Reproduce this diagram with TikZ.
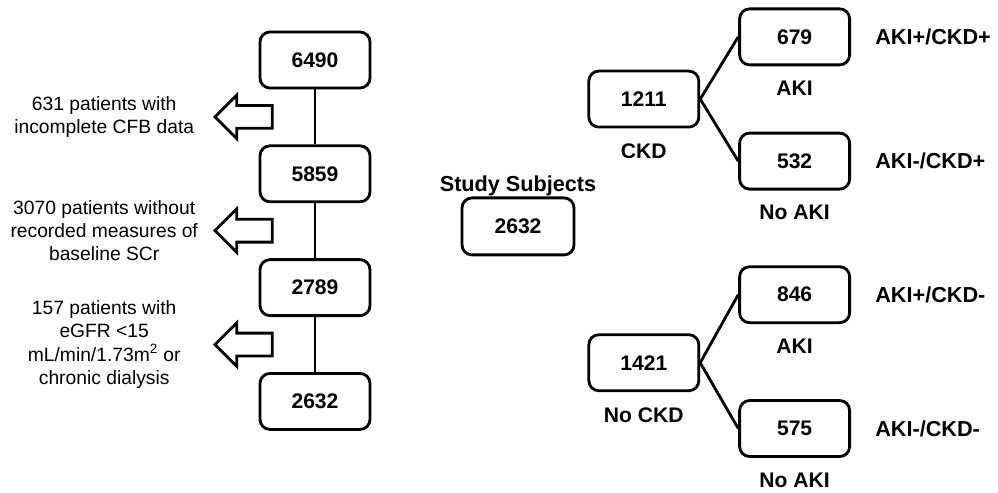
\documentclass[tikz,border=0pt]{standalone}
\usepackage{fontspec}
\setmainfont{Liberation Sans}
\usepackage{tikz}
\usetikzlibrary{shapes,arrows,positioning,calc}

\begin{document}
\begin{tikzpicture}[
    box/.style={draw, line width=2pt, rounded corners=0.25cm, minimum width=2.75cm, minimum height=1.4cm, font=\fontsize{15}{18}\selectfont\bfseries},
    tag/.style={inner sep=0pt, font=\fontsize{15}{18}\selectfont\bfseries},
    group/.style={inner sep=0pt, font=\fontsize{15.4}{18}\selectfont\bfseries},
    note/.style={align=center, inner sep=0pt, font=\fontsize{13.7}{16.5}\selectfont},
    outarrow/.style={single arrow, draw, line width=2pt, shape border rotate=180, minimum height=1.43cm, minimum width=1.02cm, inner sep=0.25cm, single arrow head extend=0.26cm, anchor=tip},
    link/.style={line width=2pt},
    node distance=1.375cm
]
    \useasboundingbox (0,0) rectangle (24.95,-12.3);

    % exclusion chain
    \node[box] (n6490) at (7.875,-1.5) {6490};
    \node[box, below=of n6490] (n5859) {5859};
    \node[box, below=of n5859] (n2789) {2789};
    \node[box, below=of n2789] (n2632) {2632};

    \draw[link] (n6490) -- (n5859) -- (n2789) -- (n2632);

    \node[outarrow] (x1) at ($(n6490)!0.5!(n5859)+(-2.55,0)$) {};
    \node[outarrow] (x2) at ($(n5859)!0.5!(n2789)+(-2.55,0)$) {};
    \node[outarrow] (x3) at ($(n2789)!0.5!(n2632)+(-2.55,0)$) {};

    \node[note] (t1) at ($(x1.tip)+(-2.72,0)$) {631 patients with\\incomplete CFB data};
    \node[note] (t2) at ($(x2.tip)+(-2.72,0)$) {3070 patients without\\recorded measures of\\baseline SCr};
    \node[note] (t3) at ($(x3.tip)+(-2.72,0)$) {157 patients with\\eGFR <15\\mL/min/1.73m\textsuperscript{2} or\\chronic dialysis};

    % study subjects split
    \node[box, minimum width=2.8cm, minimum height=1.425cm] (study) at (12.95,-5.66) {2632};
    \node[tag, above=0pt of study, font=\fontsize{15.4}{18}\selectfont\bfseries] (studylbl) {Study Subjects};

    \node[box, above right=1.7cm and 0.3cm of study] (n1211) {1211};
    \node[box, below right=1.925cm and 0.3cm of study] (n1421) {1421};
    \node[tag, below=0.38cm of n1211] (ckd) {CKD};
    \node[tag, below=0.38cm of n1421] (nockd) {No CKD};

    \node[box, above right=0.085cm and 0.95cm of n1211] (n679) {679};
    \node[box, below right=0.08cm and 0.95cm of n1211] (n532) {532};
    \node[box, above right=0.23cm and 0.95cm of n1421] (n846) {846};
    \node[box, below right=0.175cm and 0.95cm of n1421] (n575) {575};

    \node[tag, below=0.36cm of n679] (aki1) {AKI};
    \node[tag, below=0.36cm of n532] (noaki1) {No AKI};
    \node[tag, below=0.36cm of n846] (aki2) {AKI};
    \node[tag, below=0.36cm of n575] (noaki2) {No AKI};

    \node[group, right=0.6cm of n679] (g1) {AKI+/CKD+};
    \node[group, right=0.6cm of n532] (g2) {AKI-/CKD+};
    \node[group, right=0.6cm of n846] (g3) {AKI+/CKD-};
    \node[group, right=0.6cm of n575] (g4) {AKI-/CKD-};

    \draw[link] (n1211.east) -- (n679.west);
    \draw[link] (n1211.east) -- (n532.west);
    \draw[link] (n1421.east) -- (n846.west);
    \draw[link] (n1421.east) -- (n575.west);
\end{tikzpicture}
\end{document}
